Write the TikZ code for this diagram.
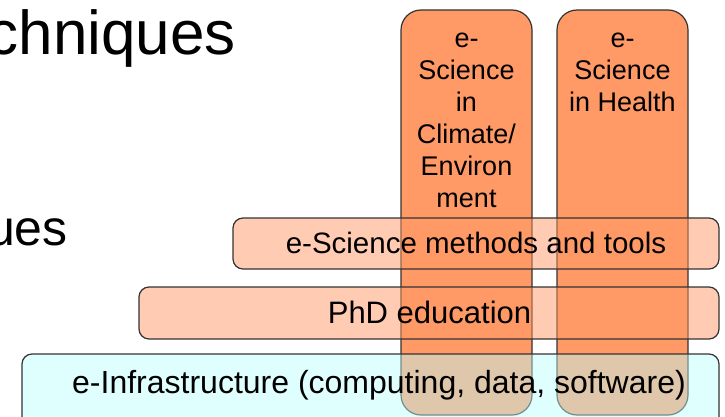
\documentclass[tikz,border=0pt]{standalone}
\usepackage{fontspec}
\setmainfont{Liberation Sans}
\definecolor{colfill}{HTML}{FF9966}
\definecolor{barfill}{HTML}{FF9966}
\definecolor{infrafill}{HTML}{BAFFFF}
\definecolor{edge}{HTML}{333333}
\begin{document}
\begin{tikzpicture}[x=1pt,y=1pt,
  column/.style={draw=edge, line width=1.2pt, fill=colfill, rounded corners=20pt},
  bar/.style={draw=edge, line width=1.2pt, fill=barfill, fill opacity=0.5, draw opacity=1, text opacity=1, rounded corners=10pt},
  infrabar/.style={draw=edge, line width=1.2pt, fill=infrafill, fill opacity=0.45, draw opacity=1, rounded corners=10pt},
  coltext/.style={inner sep=0pt, align=center, font=\fontsize{27}{32}\selectfont, anchor=north},
  bartext/.style={inner sep=0pt, anchor=base},
  title/.style={inner sep=0pt, font=\fontsize{62}{72}\selectfont}
]
\useasboundingbox (0,0) rectangle (725,416);
\fill[white] (0,0) rectangle (725,416);
\clip (0,0) rectangle (725,416);

% title fragments
\node[title, anchor=base east] (t1) at (236,361) {chniques};
\node[inner sep=0pt, font=\fontsize{50}{60}\selectfont, anchor=base east] (t2) at (68,171) {ues};

% vertical columns
\path[column] (401,406) rectangle (532,1);
\path[column] (557,406) rectangle (688,1);
\node[coltext] (c1) at (466.5,383) {e-\\Science\\in\\Climate/\\Environ\\ment};
\node[coltext] (c2) at (622.5,383) {e-\\Science\\in Health};

% horizontal bars
\path[bar] (233,198) rectangle (719,147);
\node[bartext, font=\fontsize{29.5}{34}\selectfont] (m) at (476,162.5) {e-Science methods and tools};
\path[bar] (139,129) rectangle (719,77);
\node[bartext, font=\fontsize{31}{36}\selectfont] (p) at (429.5,92.5) {PhD education};
\path[infrabar] (22,62) rectangle (719,-20);
\node[bartext, font=\fontsize{32}{36}\selectfont] (i) at (379,23) {e-Infrastructure (computing, data, software)};
\end{tikzpicture}
\end{document}
